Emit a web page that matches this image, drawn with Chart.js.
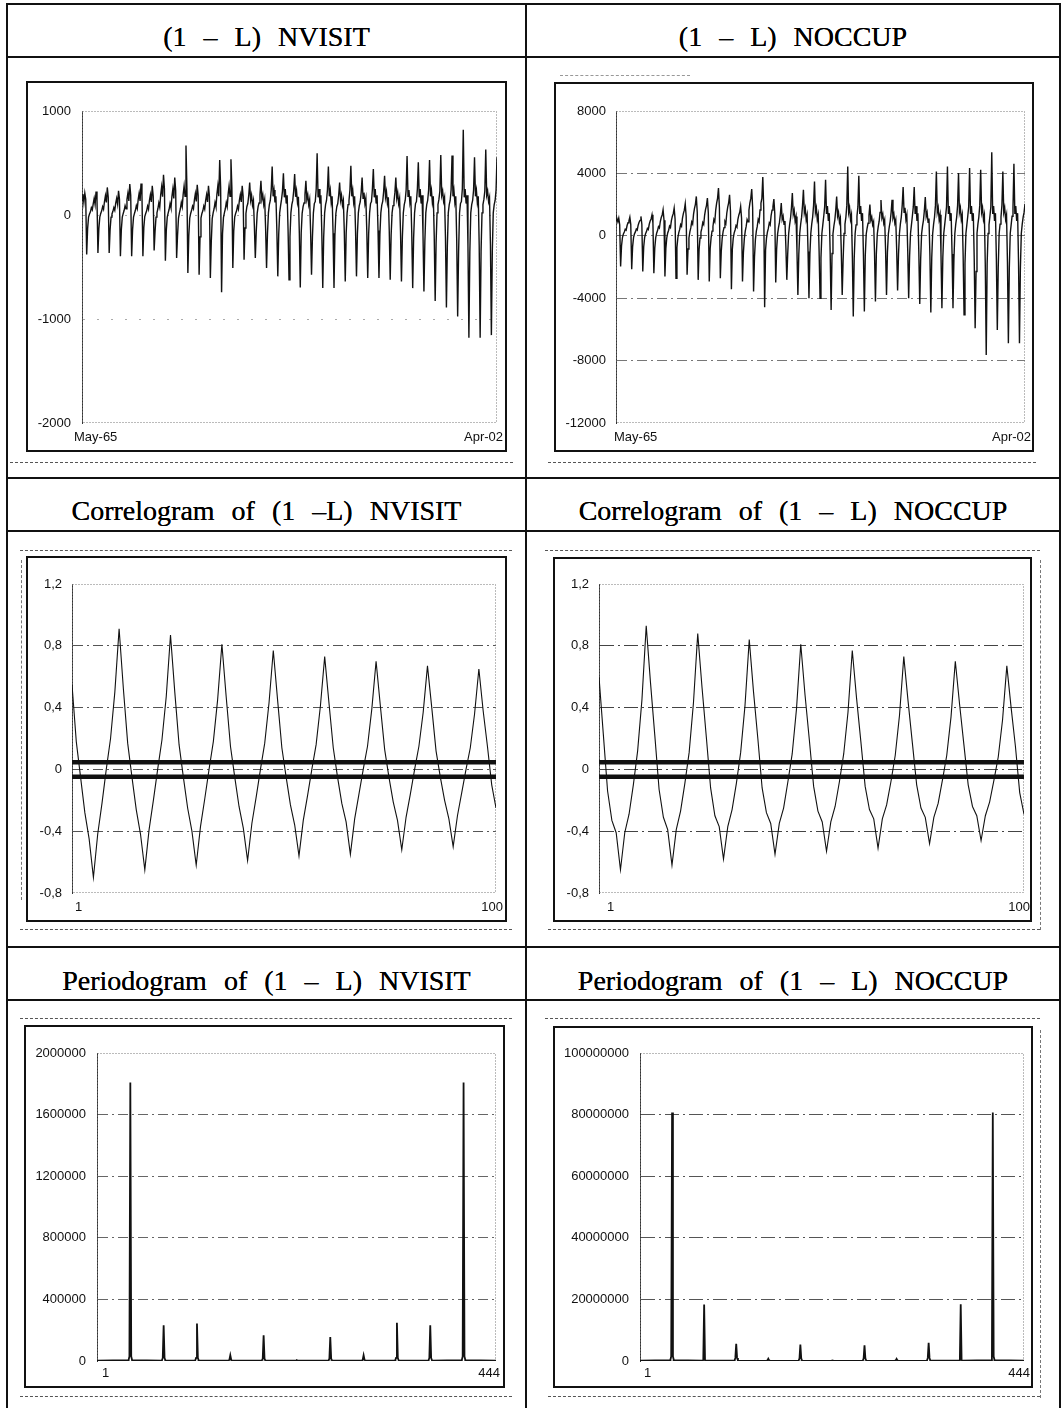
<!DOCTYPE html>
<html>
<head>
<meta charset="utf-8">
<title>(1 – L) NVISIT / NOCCUP</title>
<script src="https://cdn.jsdelivr.net/npm/chart.js@4/dist/chart.umd.min.js"></script>
<style>
  html, body { margin: 0; padding: 0; background: #fff; }
  body { width: 1063px; height: 1408px; position: relative; overflow: hidden; }
  .rule { position: absolute; background: #111; }
  .title {
    position: absolute; text-align: center; white-space: nowrap; color: #000;
    font-family: "Liberation Serif", "Times New Roman", serif;
    font-size: 28px; line-height: 31px; word-spacing: 10px;
    text-shadow: 0 0 0.4px #000;
  }
  .box { position: absolute; border: 2px solid #111; box-sizing: border-box; }
  .box canvas { position: absolute; left: 0; top: 0; }
  .scan { position: absolute; height: 0; border-top: 1.5px dashed #555; }
  .vscan { position: absolute; width: 0; border-left: 1px dashed #777; }
</style>
</head>
<body>

<!-- table rules -->
<div class="rule" style="left:6px;top:3px;width:1055px;height:2px"></div>
<div class="rule" style="left:6px;top:56px;width:1055px;height:2px"></div>
<div class="rule" style="left:6px;top:477px;width:1055px;height:2px"></div>
<div class="rule" style="left:6px;top:530px;width:1055px;height:2px"></div>
<div class="rule" style="left:6px;top:946px;width:1055px;height:2px"></div>
<div class="rule" style="left:6px;top:999px;width:1055px;height:2px"></div>
<div class="rule" style="left:6px;top:3px;width:2px;height:1405px"></div>
<div class="rule" style="left:525px;top:3px;width:1.5px;height:1405px"></div>
<div class="rule" style="left:1059px;top:3px;width:2px;height:1405px"></div>

<!-- headers -->
<div class="title" style="left:7px;width:519px;top:21px">(1 – L) NVISIT</div>
<div class="title" style="left:526px;width:534px;top:21px">(1 – L) NOCCUP</div>
<div class="title" style="left:7px;width:519px;top:495px">Correlogram of (1 –L) NVISIT</div>
<div class="title" style="left:526px;width:534px;top:495px">Correlogram of (1 – L) NOCCUP</div>
<div class="title" style="left:7px;width:519px;top:965px">Periodogram of (1 – L) NVISIT</div>
<div class="title" style="left:526px;width:534px;top:965px">Periodogram of (1 – L) NOCCUP</div>

<!-- faint scan lines -->
<div class="scan" style="left:10px;top:462px;width:503px"></div>
<div class="scan" style="left:548px;top:462px;width:488px"></div>
<div class="scan" style="left:560px;top:75px;width:130px;opacity:.6"></div>
<div class="scan" style="left:20px;top:550px;width:492px"></div>
<div class="scan" style="left:545px;top:550px;width:495px"></div>
<div class="scan" style="left:20px;top:929px;width:492px"></div>
<div class="scan" style="left:548px;top:929px;width:492px"></div>
<div class="scan" style="left:20px;top:1018px;width:492px"></div>
<div class="scan" style="left:545px;top:1018px;width:495px"></div>
<div class="scan" style="left:20px;top:1396px;width:492px"></div>
<div class="scan" style="left:548px;top:1396px;width:492px"></div>
<div class="vscan" style="left:1040px;top:560px;height:370px"></div>
<div class="vscan" style="left:1040px;top:1030px;height:368px"></div>
<div class="vscan" style="left:21px;top:560px;height:340px"></div>

<!-- chart boxes -->
<div class="box" style="left:26px;top:81px;width:481px;height:371px"><canvas id="cNvisit"></canvas></div>
<div class="box" style="left:554px;top:82px;width:480px;height:370px"><canvas id="cNoccup"></canvas></div>
<div class="box" style="left:26px;top:556px;width:481px;height:366px"><canvas id="cAcfNvisit"></canvas></div>
<div class="box" style="left:553px;top:557px;width:479px;height:365px"><canvas id="cAcfNoccup"></canvas></div>
<div class="box" style="left:24px;top:1025px;width:481px;height:363px"><canvas id="cPgNvisit"></canvas></div>
<div class="box" style="left:553px;top:1026px;width:480px;height:362px"><canvas id="cPgNoccup"></canvas></div>

<script>
// ---- data -------------------------------------------------------------

const seriesEnds = ['May-65', 'Apr-02'];
const lagEnds = ['1', '100'];
const freqEnds = ['1', '444'];

// (1 - L) NVISIT, monthly May-65 .. Apr-02 (one row per Nov..Oct year)
const nvisitDiff = [
  140, 200, 120, 210, 150, -380,
  -130, -20, 10, 30, 70, 50, 110, 160, 100, 226, 150, -365,
  -130, -20, 15, 40, 80, 55, 130, 185, 120, 265, 170, -365,
  -140, -20, 10, 35, 70, 45, 115, 160, 105, 232, 150, -397,
  -140, -20, 15, 45, 90, 60, 150, 210, 135, 297, 190, -397,
  -140, -20, 15, 45, 90, 60, 150, 210, 135, 303, 195, -397,
  -120, -15, 15, 40, 85, 55, 140, 195, 125, 281, 180, -342,
  -155, -20, 20, 60, 115, 75, 195, 270, 175, 387, 250, -439,
  -145, -20, 20, 55, 110, 70, 180, 250, 160, 361, 235, -413,
  -195, -30, 20, 60, 120, 80, 200, 280, 180, 668, 260, -558,
  -200, -30, 15, 45, 85, 60, 145, 205, 130, 290, 190, -574,
  -210, -30, 15, 40, 85, 55, 140, 195, 125, 281, 180, -606,
  -260, -35, 20, 60, 120, 80, 200, 280, 180, 529, 260, -742,
  -180, -25, 20, 60, 120, 80, 200, 280, 180, 536, 260, -510,
  -150, -20, 15, 40, 85, 55, 140, 195, 125, 281, 180, -429,
  -125, 15, 80, 110, 190, 313, 140, 190, 95, 140, -105, -413,
  -155, 15, 80, 115, 195, 329, 150, 195, 100, 150, -130, -510,
  -175, 20, 100, 140, 240, 465, 180, 240, 120, 180, -150, -590,
  -185, 20, 90, 150, 230, 400, 170, 250, 110, 190, -155, -623,
  -210, 20, 100, 140, 235, 394, 175, 235, 120, 175, -175, -697,
  -170, 15, 80, 115, 195, 329, 150, 195, 100, 150, -145, -574,
  -210, 20, 110, 130, 250, 594, 170, 250, 110, 190, -175, -703,
  -210, 20, 100, 140, 240, 465, 180, 240, 120, 180, -175, -703,
  -190, 15, 80, 110, 190, 313, 140, 190, 95, 140, -160, -639,
  -175, 20, 100, 140, 240, 474, 180, 240, 120, 180, -150, -590,
  -180, 20, 90, 125, 215, 361, 160, 215, 110, 160, -150, -606,
  -180, 20, 110, 130, 250, 442, 170, 250, 110, 190, -150, -606,
  -185, 20, 95, 130, 225, 377, 170, 225, 115, 170, -155, -623,
  -190, 20, 90, 125, 215, 361, 160, 215, 110, 160, -160, -639,
  -210, 20, 100, 140, 240, 568, 180, 240, 120, 180, -175, -703,
  -220, 20, 110, 130, 250, 506, 170, 250, 110, 190, -185, -735,
  -250, 20, 100, 140, 240, 529, 180, 240, 120, 180, -205, -826,
  -265, 20, 100, 150, 230, 577, 190, 230, 130, 170, -220, -890,
  -295, 20, 100, 140, 240, 571, 180, 240, 120, 180, -245, -977,
  -355, 20, 110, 130, 250, 819, 170, 250, 110, 190, -295, -1181,
  -355, 20, 100, 140, 240, 555, 180, 240, 120, 180, -295, -1181,
  -345, 20, 100, 150, 230, 629, 190, 230, 130, 170, -290, -1155,
  -345, 20, 100, 140, 240, 555
];

// (1 - L) NOCCUP, monthly May-65 .. Apr-02
const noccupDiff = [
  1000, 1100, 900, 1130, 700, -1968,
  -640, -110, 120, 240, 420, 360, 660, 840, 960, 1198, 720, -2139,
  -690, -115, 125, 250, 435, 370, 680, 870, 990, 1240, 745, -2289,
  -720, -120, 135, 270, 470, 405, 740, 945, 1080, 1348, 810, -2396,
  -780, -130, 165, 335, 585, 500, 915, 1170, 1335, 1668, 1000, -2610,
  -815, -135, 180, 355, 620, 530, 975, 1240, 1420, 1775, 1065, -2717,
  -750, -125, 205, 410, 720, 615, 1130, 1440, 1640, 2053, 1230, -2503,
  -850, -140, 250, 505, 885, 755, 1390, 1765, 2020, 2524, 1515, -2824,
  -880, -145, 240, 485, 845, 725, 1330, 1690, 1935, 2417, 1450, -2931,
  -815, -135, 300, 600, 1050, 900, 1650, 2100, 2400, 3059, 1800, -2717,
  -1025, -170, 265, 525, 920, 790, 1445, 1840, 2105, 2631, 1580, -3422,
  -880, -145, 190, 375, 660, 565, 1035, 1320, 1505, 1882, 1130, -2931,
  -1070, -180, 300, 600, 1050, 900, 1645, 2095, 2395, 2995, 1795, -3572,
  -1375, -230, 300, 600, 1050, 900, 1650, 2100, 2400, 3765, 1800, -4578,
  -900, -150, 235, 470, 825, 705, 1295, 1645, 1880, 2353, 1410, -2995,
  -845, 105, 525, 840, 1360, 2096, 1050, 1260, 735, 945, -705, -2824,
  -1135, 135, 685, 1095, 1780, 2738, 1370, 1645, 960, 1230, -945, -3786,
  -1200, 150, 740, 1180, 1920, 2952, 1475, 1770, 1035, 1330, -1000, -4000,
  -1200, 150, 750, 1200, 1950, 3487, 1500, 1800, 1050, 1350, -1000, -4000,
  -1425, 150, 700, 1250, 1850, 3594, 1400, 1900, 950, 1450, -1185, -4749,
  -1135, 125, 630, 1010, 1640, 2524, 1260, 1515, 885, 1135, -945, -3786,
  -1550, 150, 750, 1200, 1950, 4449, 1500, 1800, 1050, 1350, -1295, -5176,
  -1455, 150, 700, 1250, 1850, 3850, 1400, 1900, 950, 1450, -1215, -4856,
  -1265, 100, 500, 800, 1300, 2000, 1000, 1200, 700, 900, -1055, -4214,
  -1135, 115, 575, 920, 1495, 2300, 1150, 1380, 805, 1035, -945, -3786,
  -1050, 115, 580, 925, 1500, 2310, 1155, 1385, 810, 1040, -875, -3508,
  -1200, 150, 750, 1200, 1950, 3123, 1500, 1800, 1050, 1350, -1000, -4000,
  -1310, 150, 700, 1250, 1850, 3123, 1400, 1900, 950, 1450, -1090, -4364,
  -1475, 125, 620, 990, 1610, 2481, 1240, 1490, 870, 1115, -1230, -4920,
  -1390, 150, 750, 1200, 1950, 4128, 1500, 1800, 1050, 1350, -1160, -4642,
  -1390, 150, 700, 1250, 1850, 4449, 1400, 1900, 950, 1450, -1160, -4642,
  -1520, 150, 750, 1200, 1950, 4021, 1500, 1800, 1050, 1350, -1265, -5069,
  -1780, 150, 700, 1250, 1850, 4342, 1400, 1900, 950, 1450, -1480, -5925,
  -2290, 150, 750, 1200, 1950, 4235, 1500, 1800, 1050, 1350, -1910, -7636,
  -1810, 150, 700, 1250, 1850, 5348, 1400, 1900, 950, 1450, -1510, -6032,
  -2065, 150, 750, 1200, 1950, 4128, 1500, 1800, 1050, 1350, -1720, -6888,
  -2065, 150, 700, 1250, 1850, 4620, 1400, 1900, 950, 1450, -1720, -6888,
  -2065, 150, 750, 1200, 1500, 2050
];

// autocorrelations, lags 1..100
const acfNvisit = [
  0.55, 0.18, -0.05, -0.28, -0.45, -0.70, -0.42, -0.22, 0.00, 0.20, 0.50, 0.91,
  0.52, 0.17, -0.05, -0.26, -0.42, -0.65, -0.39, -0.20, 0.00, 0.19, 0.47, 0.87,
  0.50, 0.16, -0.05, -0.25, -0.40, -0.62, -0.37, -0.19, 0.00, 0.18, 0.45, 0.81,
  0.47, 0.15, -0.05, -0.24, -0.38, -0.59, -0.35, -0.18, 0.00, 0.17, 0.43, 0.77,
  0.45, 0.14, -0.05, -0.23, -0.36, -0.56, -0.33, -0.17, 0.00, 0.16, 0.41, 0.73,
  0.43, 0.14, -0.05, -0.22, -0.34, -0.55, -0.32, -0.16, 0.00, 0.15, 0.39, 0.70,
  0.41, 0.13, -0.05, -0.21, -0.33, -0.52, -0.31, -0.16, 0.00, 0.15, 0.37, 0.67,
  0.40, 0.12, -0.05, -0.20, -0.32, -0.50, -0.30, -0.15, 0.00, 0.14, 0.36, 0.65,
  0.38, 0.15, -0.10, -0.25
];
const acfNoccup = [
  0.60, 0.23, -0.14, -0.33, -0.41, -0.65, -0.41, -0.29, -0.10, 0.12, 0.45, 0.93,
  0.56, 0.22, -0.13, -0.31, -0.39, -0.62, -0.39, -0.27, -0.09, 0.11, 0.43, 0.88,
  0.53, 0.21, -0.12, -0.30, -0.37, -0.58, -0.37, -0.26, -0.09, 0.11, 0.41, 0.84,
  0.50, 0.20, -0.12, -0.28, -0.35, -0.55, -0.35, -0.25, -0.08, 0.10, 0.39, 0.81,
  0.48, 0.19, -0.11, -0.27, -0.34, -0.53, -0.34, -0.24, -0.08, 0.10, 0.37, 0.77,
  0.46, 0.18, -0.11, -0.26, -0.32, -0.51, -0.32, -0.23, -0.08, 0.09, 0.35, 0.73,
  0.44, 0.17, -0.10, -0.25, -0.31, -0.48, -0.31, -0.22, -0.07, 0.09, 0.34, 0.70,
  0.42, 0.16, -0.10, -0.24, -0.30, -0.46, -0.30, -0.21, -0.07, 0.08, 0.32, 0.67,
  0.40, 0.15, -0.15, -0.29
];
const acfBand = 0.047;

// periodogram ordinates (index 1..444), only around the seasonal peaks
const pgramIdx = [
  1,
  36, 37, 38, 39, 40,
  73, 74, 75, 76, 77,
  110, 111, 112, 113, 114,
  147, 148, 149, 150, 151,
  184, 185, 186, 187, 188,
  221, 222, 223, 224, 225,
  258, 259, 260, 261, 262,
  295, 296, 297, 298, 299,
  332, 333, 334, 335, 336,
  369, 370, 371, 372, 373,
  406, 407, 408, 409, 410,
  444
];
const pgramNvisit = [
  2000,
  5000, 30000, 1809000, 30000, 5000,
  3000, 20000, 232000, 20000, 3000,
  3000, 20000, 243000, 20000, 3000,
  2000, 8000, 37000, 8000, 2000,
  3000, 15000, 167000, 15000, 3000,
  2000, 3000, 5000, 3000, 2000,
  3000, 15000, 156000, 15000, 3000,
  2000, 8000, 37000, 8000, 2000,
  3000, 20000, 249000, 20000, 3000,
  3000, 20000, 232000, 20000, 3000,
  5000, 30000, 1809000, 30000, 5000,
  2000
];
const pgramNoccup = [
  100000,
  300000, 1500000, 80700000, 1500000, 300000,
  100000, 300000, 18300000, 300000, 100000,
  100000, 1000000, 5600000, 1000000, 100000,
  50000, 200000, 760000, 200000, 50000,
  100000, 900000, 5300000, 900000, 100000,
  50000, 80000, 150000, 80000, 50000,
  100000, 900000, 5100000, 900000, 100000,
  50000, 200000, 700000, 200000, 50000,
  100000, 1000000, 5900000, 1000000, 100000,
  100000, 300000, 18400000, 300000, 100000,
  300000, 1500000, 80700000, 1500000, 300000,
  100000
];

// ---- drawing ----------------------------------------------------------

const tickFont = { family: '"Liberation Sans", Arial, sans-serif', size: 13 };
const INK = '#111';

// dotted frame round the plot area
const plotFrame = {
  id: 'plotFrame',
  beforeDatasetsDraw(chart) {
    const { ctx, chartArea: a } = chart;
    ctx.save();
    ctx.strokeStyle = '#777';
    ctx.lineWidth = 1;
    ctx.setLineDash([1, 2]);
    ctx.strokeRect(a.left + 0.5, a.top + 0.5, a.right - a.left - 1, a.bottom - a.top - 1);
    ctx.restore();
  }
};

// first / last label under the x axis
const edgeLabels = {
  id: 'edgeLabels',
  afterDraw(chart, args, o) {
    const { ctx } = chart;
    const xs = chart.scales.x;
    ctx.save();
    ctx.font = '13px "Liberation Sans", Arial, sans-serif';
    ctx.fillStyle = INK;
    ctx.textBaseline = 'middle';
    ctx.textAlign = 'left';
    ctx.fillText(o.labels[0], xs.getPixelForValue(xs.min) + o.dl, o.y);
    ctx.textAlign = 'right';
    ctx.fillText(o.labels[1], xs.getPixelForValue(xs.max) + o.dr, o.y);
    ctx.restore();
  }
};

const toPoints = (ys, xs) => ys.map((v, i) => ({ x: xs ? xs[i] : i, y: v }));
const lagsOf = arr => arr.map((v, i) => i + 1);
const commaFmt = v => String(Math.round(v * 10) / 10).replace('.', ',');

function makeChart(id, g, datasets, y, xRange, edge) {
  const cv = document.getElementById(id);
  cv.width = g.w;
  cv.height = g.h;
  const nTicks = Math.round((y.max - y.min) / y.step);
  return new Chart(cv, {
    type: 'line',
    data: { datasets },
    options: {
      responsive: false,
      animation: false,
      events: [],
      layout: { padding: { top: g.top, right: g.right, bottom: g.bottom, left: 0 } },
      elements: { point: { radius: 0 }, line: { tension: 0 } },
      plugins: { legend: { display: false }, tooltip: { enabled: false }, edgeLabels: edge },
      scales: {
        x: { type: 'linear', display: false, min: xRange[0], max: xRange[1] },
        y: {
          min: y.min, max: y.max,
          ticks: { stepSize: y.step, padding: g.pad, color: INK, font: tickFont, callback: y.fmt || (v => String(v)) },
          grid: {
            drawTicks: false, lineWidth: 1,
            color: c => (c.index === 0 || c.index === nTicks) ? 'rgba(0,0,0,0)' : y.grid
          },
          border: { display: true, color: '#333', width: 1, dash: y.dash },
          afterFit: s => { s.width = g.yw; }
        }
      }
    },
    plugins: [plotFrame, edgeLabels]
  });
}

const lineDs = (data, w) => ({ data, borderColor: INK, borderWidth: w, pointRadius: 0, fill: false });
const bandDs = v => ({ data: [{ x: 1, y: v }, { x: 100, y: v }], borderColor: INK, borderWidth: 4.5, pointRadius: 0 });

makeChart('cNvisit', { w: 477, h: 367, yw: 54, top: 28, right: 8, bottom: 27, pad: 11 },
  [lineDs(toPoints(nvisitDiff), 1.4)],
  { min: -2000, max: 1000, step: 1000, grid: '#aaa', dash: [2, 12] },
  [0, nvisitDiff.length - 1],
  { labels: seriesEnds, dl: -8, dr: 6, y: 354 });

makeChart('cNoccup', { w: 476, h: 366, yw: 60, top: 27, right: 7, bottom: 27, pad: 10 },
  [lineDs(toPoints(noccupDiff), 1.4)],
  { min: -12000, max: 8000, step: 4000, grid: '#777', dash: [10, 4, 2, 4] },
  [0, noccupDiff.length - 1],
  { labels: seriesEnds, dl: -2, dr: 6, y: 353 });

makeChart('cAcfNvisit', { w: 477, h: 362, yw: 44, top: 26, right: 9, bottom: 27, pad: 10 },
  [lineDs(toPoints(acfNvisit, lagsOf(acfNvisit)), 1.1), bandDs(acfBand), bandDs(-acfBand)],
  { min: -0.8, max: 1.2, step: 0.4, grid: '#555', dash: [10, 4, 2, 4], fmt: commaFmt },
  [1, 100],
  { labels: lagEnds, dl: 3, dr: 7, y: 349 });

makeChart('cAcfNoccup', { w: 475, h: 361, yw: 44, top: 25, right: 6, bottom: 27, pad: 10 },
  [lineDs(toPoints(acfNoccup, lagsOf(acfNoccup)), 1.1), bandDs(acfBand), bandDs(-acfBand)],
  { min: -0.8, max: 1.2, step: 0.4, grid: '#444', dash: [14, 4, 2, 4], fmt: commaFmt },
  [1, 100],
  { labels: lagEnds, dl: 8, dr: 6, y: 348 });

makeChart('cPgNvisit', { w: 477, h: 359, yw: 71, top: 26, right: 7, bottom: 25, pad: 11 },
  [lineDs(toPoints(pgramNvisit, pgramIdx), 1.8)],
  { min: 0, max: 2000000, step: 400000, grid: '#666', dash: [10, 4, 2, 4] },
  [1, 444],
  { labels: freqEnds, dl: 5, dr: 4, y: 346 });

makeChart('cPgNoccup', { w: 476, h: 358, yw: 85, top: 25, right: 7, bottom: 25, pad: 11 },
  [lineDs(toPoints(pgramNoccup, pgramIdx), 1.8)],
  { min: 0, max: 100000000, step: 20000000, grid: '#555', dash: [14, 4, 2, 4] },
  [1, 444],
  { labels: freqEnds, dl: 4, dr: 6, y: 345 });
</script>
</body>
</html>
